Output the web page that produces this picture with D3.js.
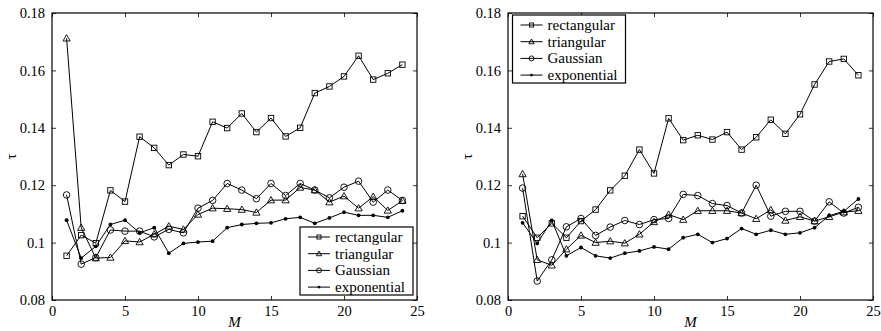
<!DOCTYPE html>
<html><head><meta charset="utf-8">
<script src="https://cdn.jsdelivr.net/npm/d3@7"></script>
<style>body{margin:0;background:#fff}svg{display:block}text{font-family:"Liberation Serif","Times New Roman",serif;fill:#000}</style>
</head><body><svg id="c" width="881" height="331"></svg>
<script>
const M = d3.range(1, 25);
const seriesNames = ["rectangular", "triangular", "Gaussian", "exponential"];
const xTicks = [0, 5, 10, 15, 20, 25];
const yTicks = [0.08, 0.1, 0.12, 0.14, 0.16, 0.18];
const yTickLabels = ["0.08", "0.1", "0.12", "0.14", "0.16", "0.18"];

// left panel
const leftRect = [0.0954,0.1026,0.0998,0.1182,0.1143,0.1369,0.1330,0.1270,0.1307,0.1301,0.1421,0.1399,0.1450,0.1385,0.1434,0.1370,0.1400,0.1521,0.1544,0.1579,0.1651,0.1568,0.1590,0.1620];
const leftTri  = [0.1712,0.1052,0.0946,0.0948,0.1006,0.1002,0.1029,0.1057,0.1046,0.1098,0.1120,0.1118,0.1115,0.1105,0.1148,0.1148,0.1192,0.1183,0.1141,0.1162,0.1120,0.1160,0.1112,0.1146];
const leftGau  = [0.1166,0.0925,0.0948,0.1044,0.1040,0.1040,0.1020,0.1046,0.1034,0.1120,0.1147,0.1206,0.1183,0.1153,0.1206,0.1164,0.1206,0.1183,0.1156,0.1193,0.1214,0.1141,0.1183,0.1147];
const leftExp  = [0.1078,0.0946,0.0987,0.1063,0.1078,0.1034,0.1052,0.0963,0.0997,0.1002,0.1005,0.1052,0.1063,0.1067,0.1069,0.1083,0.1088,0.1067,0.1086,0.1106,0.1095,0.1095,0.1088,0.1111];
// right panel
const rightRect = [0.1092,0.1017,0.1067,0.1017,0.1075,0.1115,0.1182,0.1233,0.1324,0.1241,0.1433,0.1357,0.1374,0.1359,0.1385,0.1324,0.1367,0.1428,0.1379,0.1447,0.1551,0.1631,0.1640,0.1583];
const rightTri  = [0.1239,0.0940,0.0921,0.0977,0.1025,0.1000,0.1005,0.0998,0.1029,0.1072,0.1098,0.1080,0.1111,0.1111,0.1111,0.1103,0.1083,0.1114,0.1077,0.1090,0.1075,0.1090,0.1106,0.1111];
const rightGau  = [0.1190,0.0866,0.0940,0.1055,0.1084,0.1025,0.1054,0.1077,0.1063,0.1080,0.1084,0.1168,0.1164,0.1136,0.1129,0.1103,0.1200,0.1092,0.1109,0.1109,0.1075,0.1142,0.1103,0.1123];
const rightExp  = [0.1069,0.0997,0.1077,0.0954,0.0983,0.0954,0.0946,0.0963,0.0971,0.0985,0.0977,0.1017,0.1029,0.1000,0.1014,0.1049,0.1029,0.1043,0.1029,0.1034,0.1052,0.1094,0.1109,0.1152];

const svg = d3.select("#c");
const markerTypes = ["square", "triangle", "circle", "star"];

function drawMarker(g, type, x, y, small) {
  const k = small ? 0.75 : 1;
  if (type === "square") {
    const h = 2.7 * k;
    g.append("rect").attr("x", x - h).attr("y", y - h).attr("width", 2 * h).attr("height", 2 * h)
      .attr("fill", "none").attr("stroke", "#000").attr("stroke-width", 0.9);
  } else if (type === "triangle") {
    const h = 3.6 * k;
    g.append("path").attr("d", `M${x},${y - h}L${x + h},${y + h * 0.75}L${x - h},${y + h * 0.75}Z`)
      .attr("fill", "none").attr("stroke", "#000").attr("stroke-width", 0.9);
  } else if (type === "circle") {
    g.append("circle").attr("cx", x).attr("cy", y).attr("r", 3.3 * k)
      .attr("fill", "none").attr("stroke", "#000").attr("stroke-width", 0.9);
  } else {
    g.append("circle").attr("cx", x).attr("cy", y).attr("r", 1.9 * k).attr("fill", "#000");
  }
}

function panel(x0, x1, seriesData, legendPos) {
  const top = 13, bottom = 300;
  const x = d3.scaleLinear().domain([0, 25]).range([x0, x1]);
  const y = d3.scaleLinear().domain([0.08, 0.18]).range([bottom, top]);
  const g = svg.append("g");

  seriesData.forEach((vals, i) => {
    const line = d3.line().x((d, j) => x(M[j])).y(d => y(d));
    g.append("path").attr("d", line(vals)).attr("fill", "none").attr("stroke", "#000").attr("stroke-width", 1);
    vals.forEach((v, j) => drawMarker(g, markerTypes[i], x(M[j]), y(v), false));
  });

  g.append("rect").attr("x", x0).attr("y", top).attr("width", x1 - x0).attr("height", bottom - top)
    .attr("fill", "none").attr("stroke", "#000").attr("stroke-width", 1.2);

  const tl = 4;
  const ax = g.append("g").attr("transform", `translate(0,${bottom})`)
    .call(d3.axisBottom(x).tickValues(xTicks).tickSize(-tl).tickPadding(6).tickFormat(d3.format("d")));
  ax.select(".domain").remove();
  ax.selectAll("text").style("font-size", "14.5px").attr("font-family", null);
  ax.selectAll("line").attr("stroke-width", 0.8);
  const axT = g.append("g").attr("transform", `translate(0,${top})`)
    .call(d3.axisTop(x).tickValues(xTicks).tickSize(-tl).tickFormat(""));
  axT.select(".domain").remove();
  axT.selectAll("line").attr("stroke-width", 0.8);

  const ay = g.append("g").attr("transform", `translate(${x0},0)`)
    .call(d3.axisLeft(y).tickValues(yTicks).tickSize(-tl).tickPadding(7).tickFormat((d, i) => yTickLabels[i]));
  ay.select(".domain").remove();
  ay.selectAll("text").style("font-size", "14.5px").attr("font-family", null);
  ay.selectAll("line").attr("stroke-width", 0.8);
  const ayR = g.append("g").attr("transform", `translate(${x1},0)`)
    .call(d3.axisRight(y).tickValues(yTicks).tickSize(-tl).tickFormat(""));
  ayR.select(".domain").remove();
  ayR.selectAll("line").attr("stroke-width", 0.8);

  g.append("text").attr("x", (x0 + x1) / 2).attr("y", 327).attr("text-anchor", "middle")
    .style("font-size", "15px").style("font-style", "italic").text("M");
  g.append("text").attr("transform", `translate(${x0 - 36},${(top + bottom) / 2}) rotate(-90)`)
    .attr("text-anchor", "middle").style("font-size", "15px").text("τ");

  const [lx, ly, lw, lh] = legendPos;
  const lg = g.append("g");
  lg.append("rect").attr("x", lx).attr("y", ly).attr("width", lw).attr("height", lh)
    .attr("fill", "#fff").attr("stroke", "#000").attr("stroke-width", 1.2);
  seriesNames.forEach((name, i) => {
    const yy = ly + 10 + i * 16.7;
    lg.append("line").attr("x1", lx + 8).attr("x2", lx + 30).attr("y1", yy).attr("y2", yy)
      .attr("stroke", "#000").attr("stroke-width", 1);
    drawMarker(lg, markerTypes[i], lx + 19, yy, true);
    lg.append("text").attr("x", lx + 35).attr("y", yy).attr("dy", "0.33em")
      .style("font-size", "15px").text(name);
  });
}

panel(52, 417, [leftRect, leftTri, leftGau, leftExp], [300, 227, 113, 68]);
panel(508, 873, [rightRect, rightTri, rightGau, rightExp], [512.5, 15, 113, 68]);
</script></body></html>
